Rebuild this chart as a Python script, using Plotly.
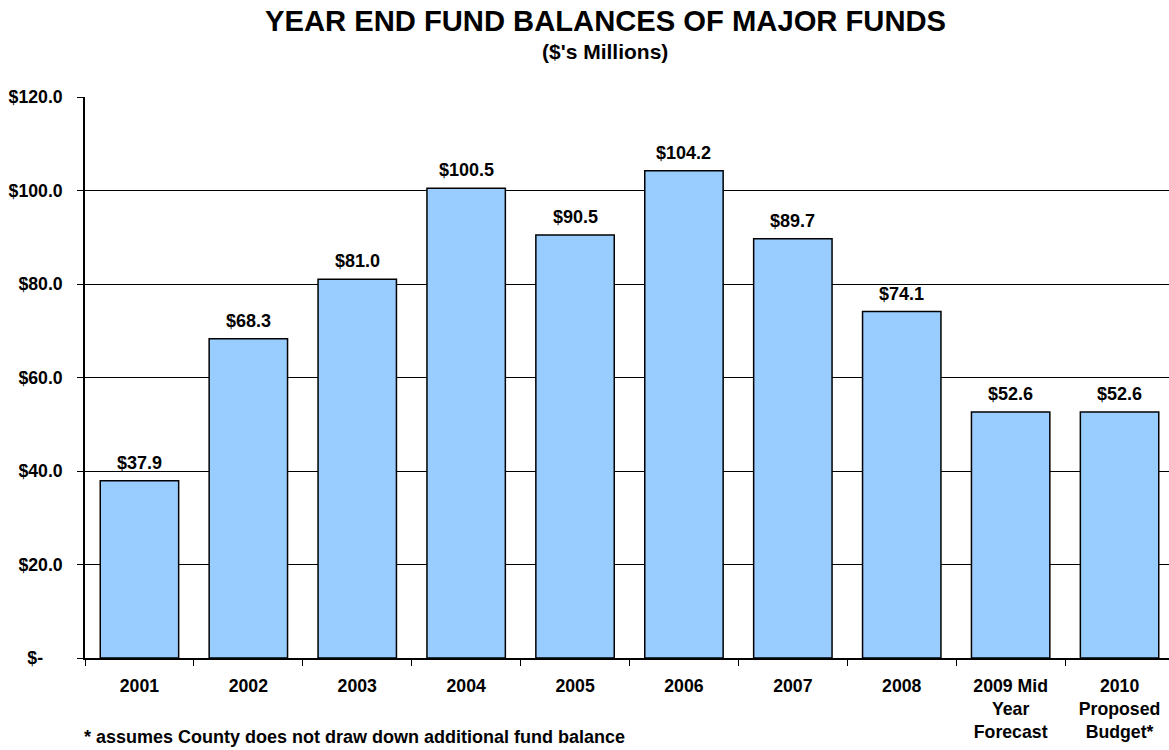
import plotly.graph_objects as go

# Year-end fund balances of major funds ($ millions)
categories = ["2001", "2002", "2003", "2004", "2005", "2006", "2007", "2008",
              "2009 Mid<br>Year<br>Forecast", "2010<br>Proposed<br>Budget*"]
balances = [37.9, 68.3, 81.0, 100.5, 90.5, 104.2, 89.7, 74.1, 52.6, 52.6]

y_ticks = [0, 20, 40, 60, 80, 100, 120]
y_tick_text = ["$-\u00a0\u00a0\u00a0\u00a0", "$20.0", "$40.0", "$60.0", "$80.0", "$100.0", "$120.0"]

FONT = "Arial, 'Liberation Sans', sans-serif"
W, H = 1169, 750
M_L, M_R, M_T, M_B = 85, 0, 97, 92

fig = go.Figure()
fig.add_trace(go.Bar(
    x=categories,
    y=balances,
    width=0.72,
    marker=dict(color="#99CCFF", line=dict(color="#000000", width=1.5)),
    hoverinfo="skip",
))

# value labels above each bar (category axis positions are indices)
for i, val in enumerate(balances):
    fig.add_annotation(
        x=i, y=val, xref="x", yref="y",
        text=f"<b>${val:.1f}</b>",
        showarrow=False, yanchor="bottom", yshift=6,
        font=dict(family=FONT, size=18, color="#000000"),
    )

plot_h = H - M_T - M_B
plot_w = W - M_L - M_R


def py(pixel_y):
    return (H - M_B - pixel_y) / plot_h


def px(pixel_x):
    return (pixel_x - M_L) / plot_w


fig.add_annotation(
    x=px(605.5), y=py(21), xref="paper", yref="paper",
    text="<b>YEAR END FUND BALANCES OF MAJOR FUNDS</b>",
    showarrow=False, xanchor="center", yanchor="middle",
    font=dict(family=FONT, size=29.2, color="#000000"),
)
fig.add_annotation(
    x=px(605), y=py(52), xref="paper", yref="paper",
    text="<b>($'s Millions)</b>",
    showarrow=False, xanchor="center", yanchor="middle",
    font=dict(family=FONT, size=21, color="#000000"),
)
fig.add_annotation(
    x=px(82), y=py(749), xref="paper", yref="paper",
    text="<b>* assumes County does not draw down additional fund balance</b>",
    showarrow=False, xanchor="left", yanchor="bottom",
    font=dict(family=FONT, size=18, color="#000000"),
)

cat_px = 108.9
fig.update_layout(
    width=W, height=H,
    margin=dict(l=M_L, r=M_R, t=M_T, b=M_B, pad=0),
    paper_bgcolor="#FFFFFF", plot_bgcolor="#FFFFFF",
    showlegend=False,
    font=dict(family=FONT, color="#000000"),
    xaxis=dict(
        type="category",
        range=[-0.5, -0.5 + plot_w / cat_px],
        tickson="boundaries",
        ticks="outside", ticklen=6, tickwidth=1.2, tickcolor="#000000",
        showline=True, linecolor="#000000", linewidth=1.5,
        showgrid=False, zeroline=False,
        tickfont=dict(family=FONT, size=17.7, color="#000000"),
        tickprefix="<b>", ticksuffix="</b>",
        ticklabelstandoff=11,
    ),
    yaxis=dict(
        range=[0, 120],
        tickvals=y_ticks,
        ticktext=[f"<b>{t}</b>" for t in y_tick_text],
        ticks="outside", ticklen=6, tickwidth=1.2, tickcolor="#000000",
        showline=True, linecolor="#000000", linewidth=1.5,
        showgrid=True, gridcolor="#000000", gridwidth=1,
        zeroline=False,
        tickfont=dict(family=FONT, size=17.7, color="#000000"),
        ticklabelstandoff=11,
    ),
)

fig.write_html("out.html")
